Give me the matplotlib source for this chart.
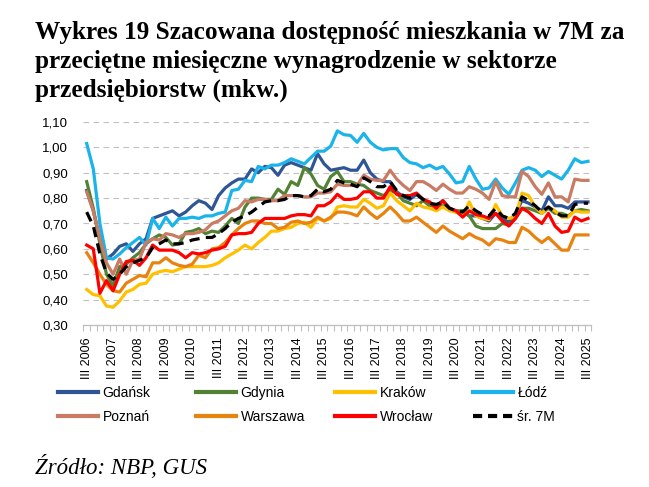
import matplotlib
matplotlib.use("Agg")
import matplotlib.pyplot as plt
from matplotlib.lines import Line2D
from matplotlib.ticker import FixedLocator, FuncFormatter

W, H = 649, 487

years = list(range(2006, 2026))
tick_labels = ["III " + str(y) for y in years]
y_ticks = [0.30, 0.40, 0.50, 0.60, 0.70, 0.80, 0.90, 1.00, 1.10]

gdansk = [0.83, 0.75, 0.64, 0.56, 0.58, 0.61, 0.62, 0.59, 0.62, 0.64,
          0.72, 0.73, 0.74, 0.75, 0.73, 0.745, 0.77, 0.79, 0.78, 0.755,
          0.81, 0.84, 0.86, 0.875, 0.875, 0.915, 0.90, 0.925, 0.92, 0.89,
          0.93, 0.94, 0.93, 0.92, 0.91, 0.975, 0.935, 0.91, 0.915, 0.92,
          0.91, 0.91, 0.95, 0.90, 0.875, 0.865, 0.865, 0.825, 0.805, 0.795,
          0.815, 0.795, 0.77, 0.77, 0.79, 0.76, 0.745, 0.75, 0.73, 0.73,
          0.72, 0.71, 0.74, 0.72, 0.705, 0.74, 0.79, 0.78, 0.765, 0.75,
          0.805, 0.77, 0.77, 0.76, 0.785, 0.785, 0.785]

gdynia = [0.865, 0.76, 0.62, 0.50, 0.455, 0.53, 0.54, 0.565, 0.585, 0.62,
          0.64, 0.655, 0.645, 0.615, 0.62, 0.665, 0.67, 0.68, 0.66, 0.67,
          0.665, 0.69, 0.72, 0.70, 0.765, 0.80, 0.80, 0.795, 0.795, 0.835,
          0.815, 0.865, 0.85, 0.92, 0.895, 0.85, 0.835, 0.885, 0.905, 0.865,
          0.865, 0.855, 0.85, 0.83, 0.82, 0.81, 0.83, 0.82, 0.79, 0.78,
          0.77, 0.79, 0.77, 0.77, 0.77, 0.76, 0.75, 0.75, 0.73, 0.69,
          0.68, 0.68, 0.68, 0.70, 0.695, 0.72, 0.76, 0.76, 0.75, 0.74,
          0.76, 0.74, 0.74, 0.73, 0.75, 0.755, 0.75]

krakow = [0.44, 0.42, 0.415, 0.375, 0.37, 0.395, 0.43, 0.44, 0.46, 0.465,
          0.50, 0.51, 0.515, 0.51, 0.52, 0.53, 0.53, 0.53, 0.53, 0.535,
          0.545, 0.565, 0.58, 0.595, 0.615, 0.60, 0.625, 0.645, 0.67, 0.67,
          0.68, 0.685, 0.70, 0.705, 0.685, 0.72, 0.71, 0.72, 0.765, 0.77,
          0.765, 0.765, 0.795, 0.78, 0.76, 0.77, 0.82, 0.79, 0.77, 0.75,
          0.78, 0.765, 0.76, 0.75, 0.765, 0.75, 0.745, 0.73, 0.785, 0.73,
          0.72, 0.715, 0.775, 0.73, 0.72, 0.725, 0.82, 0.81, 0.765, 0.74,
          0.765, 0.75, 0.725, 0.725, 0.75, 0.745, 0.745]

lodz = [1.015, 0.915, 0.70, 0.565, 0.56, 0.58, 0.605, 0.625, 0.645, 0.615,
        0.72, 0.68, 0.725, 0.69, 0.72, 0.72, 0.725, 0.72, 0.73, 0.73,
        0.74, 0.745, 0.83, 0.835, 0.87, 0.865, 0.925, 0.915, 0.93, 0.93,
        0.94, 0.955, 0.945, 0.935, 0.96, 0.985, 0.985, 1.005, 1.065, 1.05,
        1.047, 1.02, 1.055, 1.02, 1.00, 0.99, 0.995, 0.995, 0.96, 0.94,
        0.935, 0.92, 0.93, 0.915, 0.925, 0.895, 0.86, 0.865, 0.925, 0.875,
        0.835, 0.84, 0.875, 0.84, 0.815, 0.86, 0.91, 0.92, 0.91, 0.885,
        0.905, 0.89, 0.875, 0.91, 0.955, 0.94, 0.945]

poznan = [0.825, 0.75, 0.64, 0.545, 0.50, 0.56, 0.50, 0.555, 0.56, 0.625,
          0.64, 0.635, 0.66, 0.655, 0.645, 0.66, 0.66, 0.665, 0.675, 0.70,
          0.71, 0.73, 0.75, 0.76, 0.79, 0.785, 0.795, 0.795, 0.79, 0.79,
          0.81, 0.81, 0.81, 0.805, 0.805, 0.82, 0.82, 0.825, 0.855, 0.85,
          0.85, 0.85, 0.89, 0.875, 0.87, 0.87, 0.91, 0.875, 0.85, 0.83,
          0.865, 0.865, 0.85, 0.83, 0.855, 0.835, 0.82, 0.82, 0.845, 0.835,
          0.82, 0.795, 0.865, 0.81, 0.805, 0.805, 0.905, 0.885, 0.845, 0.815,
          0.86, 0.805, 0.805, 0.785, 0.875, 0.87, 0.87]

warszawa = [0.585, 0.545, 0.50, 0.46, 0.435, 0.43, 0.465, 0.48, 0.495, 0.49,
            0.545, 0.545, 0.565, 0.545, 0.535, 0.53, 0.54, 0.575, 0.565, 0.60,
            0.605, 0.625, 0.655, 0.68, 0.70, 0.71, 0.71, 0.70, 0.70, 0.68,
            0.685, 0.705, 0.71, 0.70, 0.705, 0.725, 0.71, 0.725, 0.745, 0.745,
            0.74, 0.73, 0.765, 0.74, 0.72, 0.74, 0.765, 0.74, 0.71, 0.71,
            0.725, 0.705, 0.685, 0.665, 0.69, 0.67, 0.655, 0.64, 0.66, 0.645,
            0.635, 0.615, 0.64, 0.635, 0.625, 0.625, 0.685, 0.67, 0.645, 0.625,
            0.645, 0.62, 0.595, 0.595, 0.655, 0.655, 0.655]

wroclaw = [0.615, 0.60, 0.425, 0.475, 0.435, 0.50, 0.55, 0.555, 0.535, 0.565,
           0.615, 0.595, 0.595, 0.595, 0.585, 0.565, 0.585, 0.58, 0.585, 0.595,
           0.60, 0.61, 0.655, 0.66, 0.66, 0.665, 0.70, 0.72, 0.72, 0.72,
           0.72, 0.73, 0.735, 0.735, 0.73, 0.77, 0.77, 0.785, 0.815, 0.795,
           0.795, 0.80, 0.825, 0.825, 0.80, 0.80, 0.845, 0.815, 0.81, 0.81,
           0.82, 0.795, 0.785, 0.76, 0.79, 0.76, 0.75, 0.725, 0.75, 0.735,
           0.73, 0.72, 0.74, 0.71, 0.69, 0.72, 0.76, 0.745, 0.72, 0.70,
           0.74, 0.69, 0.665, 0.67, 0.725, 0.71, 0.72]

avg7m = [0.745, 0.69, 0.58, 0.505, 0.48, 0.50, 0.53, 0.545, 0.555, 0.565,
         0.605, 0.62, 0.635, 0.62, 0.62, 0.625, 0.635, 0.64, 0.645, 0.645,
         0.66, 0.68, 0.705, 0.72, 0.73, 0.745, 0.765, 0.785, 0.79, 0.79,
         0.795, 0.81, 0.81, 0.805, 0.81, 0.835, 0.825, 0.835, 0.87, 0.86,
         0.855, 0.845, 0.88, 0.865, 0.845, 0.845, 0.865, 0.83, 0.81, 0.80,
         0.815, 0.795, 0.78, 0.775, 0.785, 0.76, 0.75, 0.745, 0.77, 0.75,
         0.735, 0.73, 0.76, 0.73, 0.72, 0.74, 0.805, 0.79, 0.77, 0.745,
         0.765, 0.745, 0.73, 0.73, 0.775, 0.78, 0.78]

series = [
    ("Gdańsk", gdansk, "#2F5597"),
    ("Gdynia", gdynia, "#548235"),
    ("Kraków", krakow, "#FFC000"),
    ("Łódź", lodz, "#1AB3EA"),
    ("Poznań", poznan, "#C97B63"),
    ("Warszawa", warszawa, "#E9830F"),
    ("Wrocław", wroclaw, "#FF0000"),
]
avg_name = "śr. 7M"

SANS = ["Liberation Sans", "DejaVu Sans"]
SERIF = ["Liberation Serif", "DejaVu Serif"]

fig = plt.figure(figsize=(W / 100, H / 100), dpi=100)

def fx(px):
    return px / W

def fy(py):
    return 1 - py / H

ax = fig.add_axes([fx(83.4), fy(325), fx(591.3) - fx(83.4), fy(122) - fy(325)])

x = list(range(len(gdansk)))
for name, vals, col in series:
    ax.plot(x, vals, color=col, lw=2.3, label=name, solid_joinstyle="round")
ax.plot(x, avg7m, color="black", lw=2.3, dashes=(3.2, 2.0), label=avg_name)

ax.set_ylim(0.30, 1.10)
ax.set_xlim(-0.5, len(gdansk) - 0.5)
ax.set_yticks(y_ticks)
ax.yaxis.set_major_formatter(FuncFormatter(lambda v, p: f"{v:.2f}".replace(".", ",")))
ax.grid(axis="y", color="#C0C0C0", lw=0.8, linestyle=(0, (5, 4)))
ax.set_axisbelow(True)

for s in ["top", "right", "left"]:
    ax.spines[s].set_visible(False)
ax.spines["bottom"].set_color("#BFBFBF")
ax.spines["bottom"].set_linewidth(0.9)

ax.set_xticks([i * 4 for i in range(len(years))])
ax.set_xticklabels(tick_labels, rotation=90, fontsize=9, family=SANS)
ax.tick_params(axis="x", length=0, pad=9)
ax.xaxis.set_minor_locator(FixedLocator([i - 0.5 for i in range(len(gdansk) + 1)]))
ax.tick_params(axis="x", which="minor", length=4, color="#BFBFBF", width=0.8)
ax.tick_params(axis="y", length=0, pad=11, labelsize=9.5)
for t in ax.get_yticklabels():
    t.set_family(SANS)

# legend: 4 columns, filled row by row as in the reference
handles = [Line2D([], [], color=c, lw=3) for _, _, c in series]
handles.append(Line2D([], [], color="black", lw=3, dashes=(2.2, 1.4)))
labels = [n for n, _, _ in series] + [avg_name]
col_x = [58, 196, 335, 473]
for c in range(4):
    fig.legend([handles[c], handles[c + 4]], [labels[c], labels[c + 4]],
               loc="upper left", bbox_to_anchor=(fx(col_x[c]), fy(386)),
               frameon=False, prop={"family": SANS, "size": 10},
               handlelength=2.9, handletextpad=0.3, labelspacing=0.7,
               borderpad=0, borderaxespad=0)

title_lines = ["Wykres 19 Szacowana dostępność mieszkania w 7M za",
               "przeciętne miesięczne wynagrodzenie w sektorze",
               "przedsiębiorstw (mkw.)"]
for k, line in enumerate(title_lines):
    fig.text(fx(35), fy(39 + 28.7 * k), line, fontsize=18.2, fontweight="bold",
             family=SERIF, ha="left", va="baseline")

fig.text(fx(35), fy(474), "Źródło: NBP, GUS", fontsize=16.5, style="italic",
         family=SERIF, ha="left", va="baseline")

fig.savefig("out.png", dpi=100)
